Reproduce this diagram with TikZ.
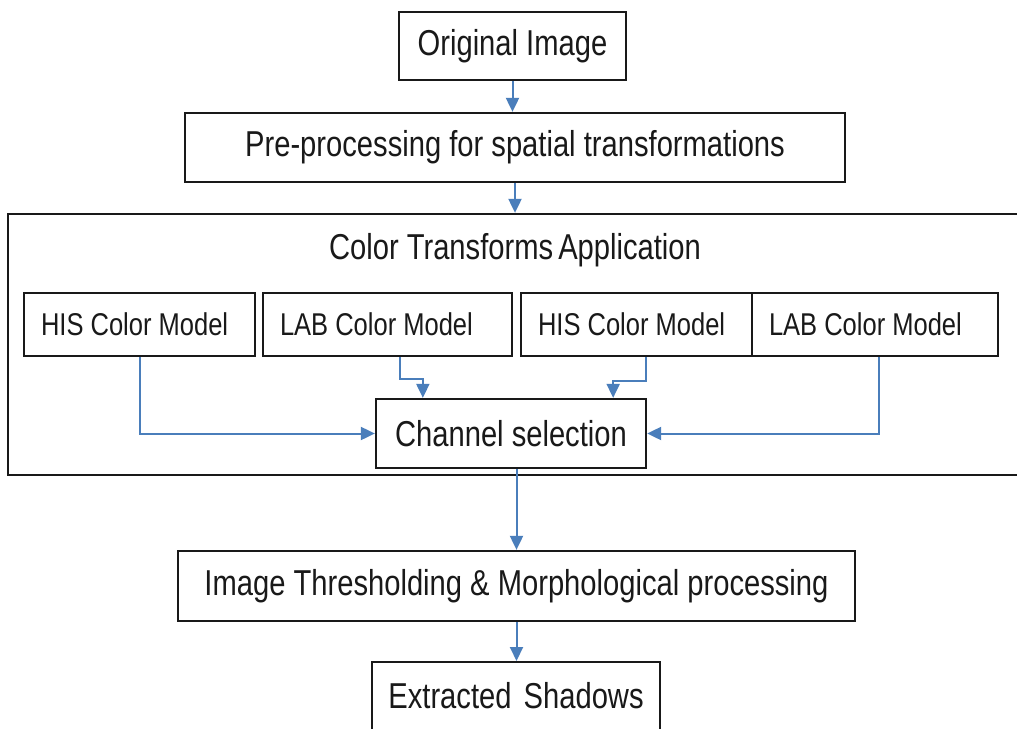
\documentclass[tikz,border=0pt]{standalone}
\usepackage{fontspec}
\setmainfont{Liberation Sans}[FakeStretch=0.81]
\usetikzlibrary{arrows.meta,calc}
\definecolor{arrblue}{RGB}{74,126,187}
\definecolor{boxline}{RGB}{25,25,25}
\tikzset{
  box/.style={draw=boxline, line width=2.3pt, inner sep=0pt, text=boxline, font=\fontsize{36}{40}\selectfont},
  mbox/.style={draw=boxline, line width=2.1pt, inner ysep=0pt, inner xsep=17pt, align=flush left,
     text=boxline, minimum height=63pt, font=\fontsize{31.5}{35}\selectfont},
  arr/.style={draw=arrblue, line width=2pt, -{Triangle[width=13pt,length=14pt]}}
}
\begin{document}
\begin{tikzpicture}[x=1pt,y=-1pt]
\fill[white] (0,0) rectangle (1017,728);
\useasboundingbox (0,0) rectangle (1017,728);
\node[box, minimum width=227pt, minimum height=68pt] (orig) at (512.5,46) {Original Image};
\node[box, minimum width=660pt, minimum height=69pt] (pre) at (515,147.5) {Pre-processing for spatial transformations};
\node[box, minimum width=1012pt, minimum height=261pt] (ct) at (514,344.5) {};
\node[font=\fontsize{36}{40}\selectfont, text=boxline, inner sep=0pt] (cttitle) at (515,250) {Color Transforms\hspace{-3pt} Application};
\node[mbox, text width=197pt] (his1) at (139.5,324.5) {HIS Color Model};
\node[mbox, text width=215pt] (lab1) at (387.5,324.5) {LAB Color Model};
\node[mbox, text width=197pt] (his2) at (636.5,324.5) {HIS Color Model};
\node[mbox, text width=212pt] (lab2) at (875,324.5) {LAB Color Model};
\node[box, minimum width=270pt, minimum height=69pt] (ch) at (511,433.5) {Channel selection};
\node[box, minimum width=677pt, minimum height=70pt] (thr) at (516.5,586) {Image Thresholding \& Morphological processing};
\node[box, minimum width=288pt, minimum height=84pt, anchor=north] (ext) at (516,661) {};
\node[font=\fontsize{36}{40}\selectfont, text=boxline, inner sep=0pt] (exttext) at (516,696) {Extracted\hspace{4pt} Shadows};
\draw[arr] (orig.south) -- (orig.south |- pre.north);
\draw[arr] (pre.south) -- (pre.south |- ct.north);
\draw[arr] (his1.south) |- (ch.west);
\draw[arr] ([xshift=12.5pt]lab1.south) -- ++(0,22) -| ([xshift=48pt]ch.north west);
\draw[arr] ([xshift=9.5pt]his2.south) -- ++(0,24) -| ([xshift=-34pt]ch.north east);
\draw[arr] ([xshift=4pt]lab2.south) |- (ch.east);
\draw[arr] (thr.north |- ch.south) -- (thr.north);
\draw[arr] (thr.south) -- (thr.south |- ext.north);
\end{tikzpicture}
\end{document}
